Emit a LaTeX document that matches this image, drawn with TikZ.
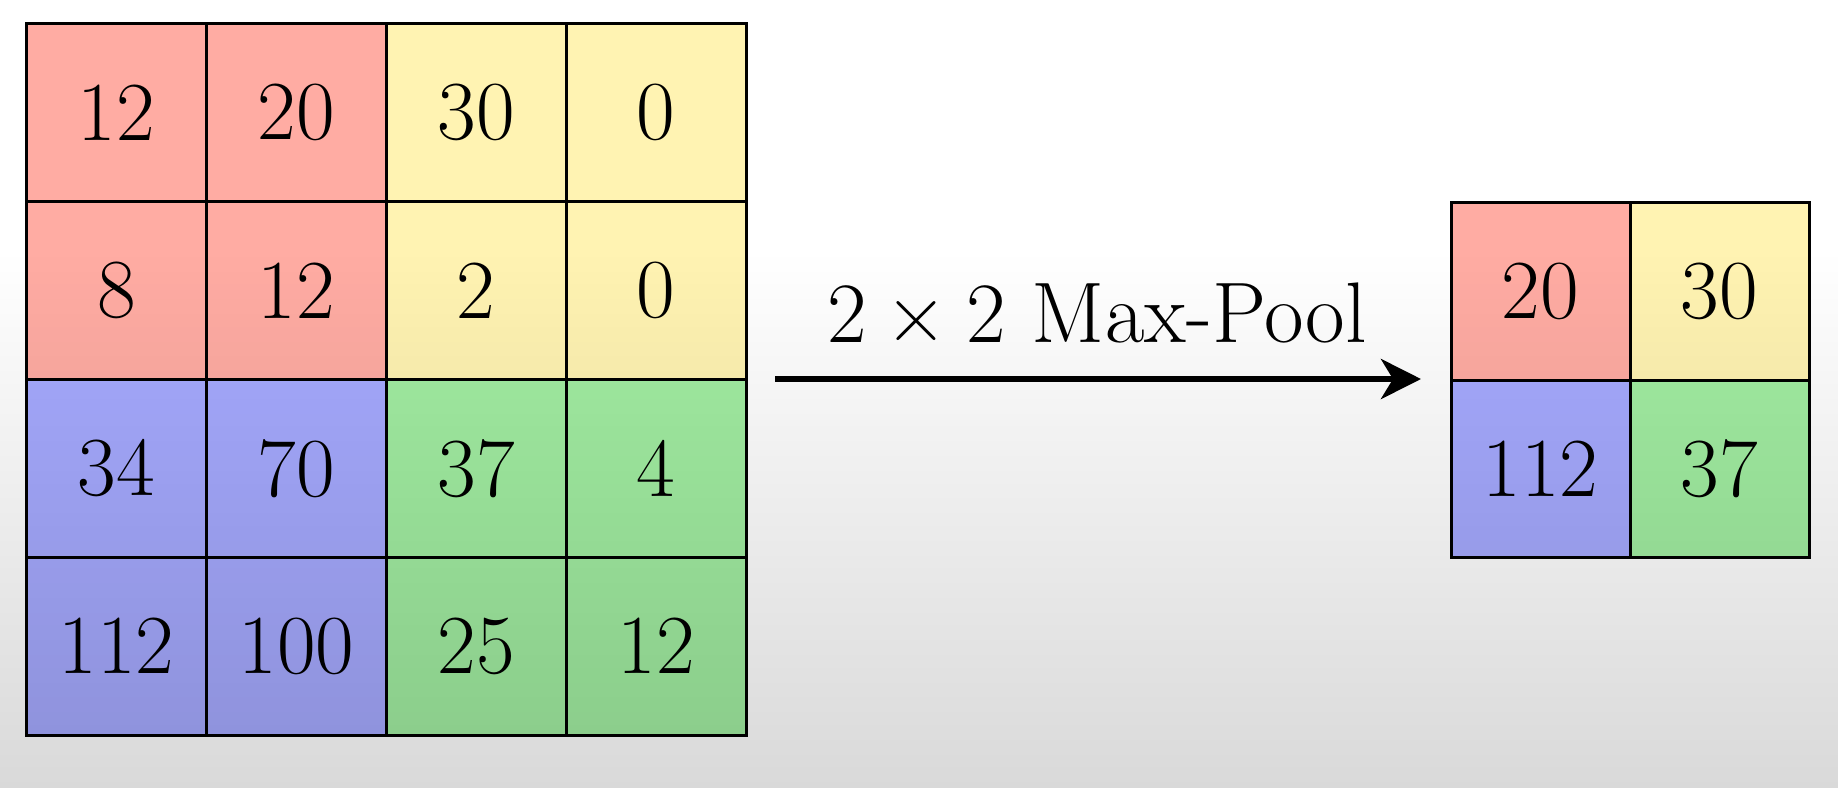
\documentclass[tikz,border=0pt]{standalone}
\usepackage{fontspec}
\usetikzlibrary{arrows.meta,fadings}
\definecolor{cred}{RGB}{255,172,163}
\definecolor{cyel}{RGB}{255,243,178}
\definecolor{cblu}{RGB}{166,170,255}
\definecolor{cgrn}{RGB}{162,238,162}
\tikzfading[name=darkbottom, top color=transparent!100, bottom color=transparent!0]
\tikzset{
  cellL/.style={draw=black, line width=1.5pt, minimum width=89.95pt, minimum height=88.9pt, inner sep=0pt, font=\fontsize{42}{48}\selectfont},
  cellR/.style={draw=black, line width=1.5pt, minimum width=89.5pt, minimum height=88.75pt, inner sep=0pt, font=\fontsize{42}{48}\selectfont},
  lbl/.style={font=\fontsize{43}{50}\selectfont, inner sep=0pt},
  bigarrow/.style={line width=3pt, -{Stealth[length=20pt,width=20pt,inset=6pt]}}
}
\begin{document}
\begin{tikzpicture}[x=0.5pt,y=-0.5pt]
\useasboundingbox (0,0) rectangle (1842,788);
\fill[white] (0,0) rectangle (1842,788);
\foreach \r/\c/\v/\col in {1/1/12/cred,1/2/20/cred,1/3/30/cyel,1/4/0/cyel,
  2/1/8/cred,2/2/12/cred,2/3/2/cyel,2/4/0/cyel,
  3/1/34/cblu,3/2/70/cblu,3/3/37/cgrn,3/4/4/cgrn,
  4/1/112/cblu,4/2/100/cblu,4/3/25/cgrn,4/4/12/cgrn}{
  \node[cellL, fill=\col] (a\r\c) at ({26.5+(\c-0.5)*179.9},{24+(\r-0.5)*177.75}) {\v};
}
\foreach \r/\c/\v/\col in {1/1/20/cred,1/2/30/cyel,2/1/112/cblu,2/2/37/cgrn}{
  \node[cellR, fill=\col] (b\r\c) at ({1451+(\c-0.5)*179},{202.5+(\r-0.5)*177.5}) {\v};
}
\coordinate (s) at (775,379);
\coordinate (e) at (1421,379);
\draw[bigarrow] (s) -- (e);
\node[lbl, anchor=base] (label) at (1097,342) {2\hspace{0.22em}×\hspace{0.22em}2 Max-Pool};
\fill[black, fill opacity=0.15, path fading=darkbottom] (0,250) rectangle (1842,788);
\end{tikzpicture}
\end{document}
